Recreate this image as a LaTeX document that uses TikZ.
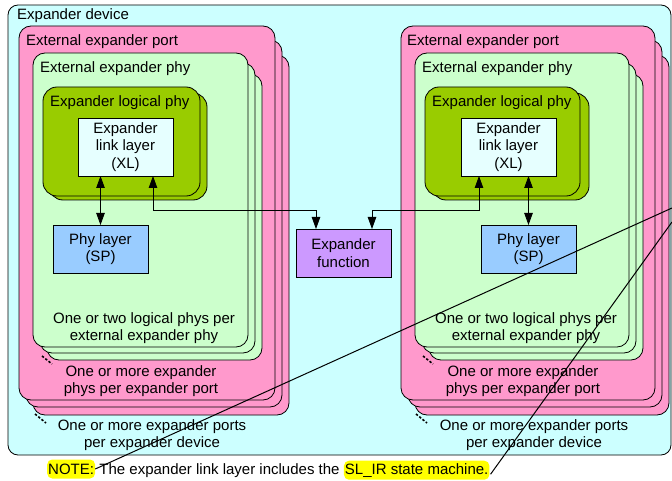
\documentclass[tikz,border=0pt]{standalone}
\usepackage{fontspec}
\setmainfont{Liberation Sans}
\usetikzlibrary{arrows.meta,calc}
\definecolor{devbg}{HTML}{CCFFFF}
\definecolor{portbg}{HTML}{FF99CC}
\definecolor{phybg}{HTML}{CCFFCC}
\definecolor{logbg}{HTML}{99CC00}
\definecolor{xlbg}{HTML}{E6FFFF}
\definecolor{spbg}{HTML}{99CCFF}
\definecolor{fnbg}{HTML}{CC99FF}
\definecolor{hlbg}{HTML}{FFFF00}
\newcommand\bx[7][]{\node[#1, anchor=north west, minimum width={(#5)-(#3)}, minimum height={(#6)-(#4)}, align=center] (#2) at (#3,#4) {#7};}
\tikzset{
  box/.style={draw=black, line width=0.8pt, inner sep=0pt, outer sep=0pt},
  devicebox/.style={box, fill=devbg, rounded corners=10pt},
  portbox/.style={box, fill=portbg, rounded corners=12pt},
  phybox/.style={box, fill=phybg, rounded corners=12pt},
  logicbox/.style={box, fill=logbg, rounded corners=14pt},
  xlbox/.style={box, fill=xlbg},
  spbox/.style={box, fill=spbg},
  fnbox/.style={box, fill=fnbg},
  lbl/.style={inner sep=0pt, anchor=west},
  ctr/.style={inner sep=0pt, align=center},
  dotsline/.style={line width=1.6pt, dash pattern=on 2.4pt off 1.8pt},
  link/.style={line width=0.8pt, {Triangle[length=12pt,width=8.5pt]}-{Triangle[length=12pt,width=8.5pt]}},
  hl/.style={fill=hlbg, rounded corners=5pt, inner xsep=1pt, inner ysep=0pt, minimum height=19pt, anchor=west},
  leader/.style={line width=1pt}
}
\begin{document}
\begin{tikzpicture}[x=1pt,y=-1pt,font=\fontsize{15}{17.5}\selectfont]
\useasboundingbox (0,0) rectangle (672,481);
% device
\bx[devicebox]{dev}{8}{5}{671}{455}{}
\node[lbl] (tdev) at (17,16) {Expander device};
% ---------- left port ----------
\bx[portbox]{pL3}{33}{55}{289}{415}{}
\bx[portbox]{pL2}{26}{40}{282}{407}{}
\bx[portbox]{pL1}{19}{26}{275}{400}{}
\node[lbl] (tpL) at (26,42) {External expander port};
\bx[phybox]{gL3}{47}{74}{262}{360}{}
\bx[phybox]{gL2}{40}{63}{255}{353}{}
\bx[phybox]{gL1}{33}{53}{248}{347}{}
\node[lbl] (tgL) at (40,69) {External expander phy};
\bx[logicbox]{lL2}{49}{93}{207}{200}{}
\bx[logicbox]{lL1}{43}{87}{200}{196}{}
\node[lbl] (tlL) at (50,103) {Expander logical phy};
\bx[xlbox]{xlL}{78}{118}{173}{176}{Expander\\link layer\\(XL)}
\bx[spbox]{spL}{53}{225}{148}{273}{Phy layer\\(SP)}
\node[ctr] (t1L) at (144,328) {One or two logical phys per\\external expander phy};
\node[ctr] (t2L) at (141,381) {One or more expander\\phys per expander port};
\node[ctr] (t3L) at (152,435) {One or more expander ports\\per expander device};
\coordinate (d1a) at (42,356); \coordinate (d1b) at (52,364);
\coordinate (d2a) at (35,414); \coordinate (d2b) at (46,423);
\draw[dotsline] (d1a) -- (d1b);
\draw[dotsline] (d2a) -- (d2b);
% ---------- right port ----------
\bx[portbox]{pR3}{415}{55}{669}{415}{}
\bx[portbox]{pR2}{408}{40}{662}{407}{}
\bx[portbox]{pR1}{401}{26}{655}{400}{}
\node[lbl] (tpR) at (407,42) {External expander port};
\bx[phybox]{gR3}{429}{74}{643}{360}{}
\bx[phybox]{gR2}{422}{63}{636}{353}{}
\bx[phybox]{gR1}{415}{53}{629}{347}{}
\node[lbl] (tgR) at (422,69) {External expander phy};
\bx[logicbox]{lR2}{432}{93}{589}{200}{}
\bx[logicbox]{lR1}{425}{87}{580}{196}{}
\node[lbl] (tlR) at (432,103) {Expander logical phy};
\bx[xlbox]{xlR}{461}{118}{556}{176}{Expander\\link layer\\(XL)}
\bx[spbox]{spR}{481}{225}{576}{273}{Phy layer\\(SP)}
\node[ctr] (t1R) at (526,328) {One or two logical phys per\\external expander phy};
\node[ctr] (t2R) at (523,381) {One or more expander\\phys per expander port};
\node[ctr] (t3R) at (534,435) {One or more expander ports\\per expander device};
\coordinate (d3a) at (423,356); \coordinate (d3b) at (433,364);
\coordinate (d4a) at (416,414); \coordinate (d4b) at (427,423);
\draw[dotsline] (d3a) -- (d3b);
\draw[dotsline] (d4a) -- (d4b);
% ---------- function ----------
\bx[fnbox]{fn}{296}{229}{391}{277}{Expander\\function}
% connectors
\draw[link] ([xshift=-20pt]xlL.south east) -- ++(0,34) -| ([xshift=20pt]fn.north west);
\draw[link] ([xshift=18pt]xlR.south west) -- ++(0,34) -| ([xshift=-19pt]fn.north east);
\draw[link] (spL.north |- xlL.south) -- (spL.north);
\draw[link] (spR.north |- xlR.south) -- (spR.north);
% note
\node[hl] (note) at (47,469) {NOTE:};
\node[anchor=base west, inner sep=0pt] (mid) at ([xshift=4pt]note.base east) {The expander link layer includes the};
\node[hl, anchor=base west] (sl) at ([xshift=4pt]mid.base east) {SL\_IR state machine.};
\coordinate (e1) at (672,208);
\coordinate (e2) at (672,222);
\draw[leader] (note.east) -- (e1);
\draw[leader] ($(sl.east)+(1,4)$) -- (e2);
\end{tikzpicture}
\end{document}
